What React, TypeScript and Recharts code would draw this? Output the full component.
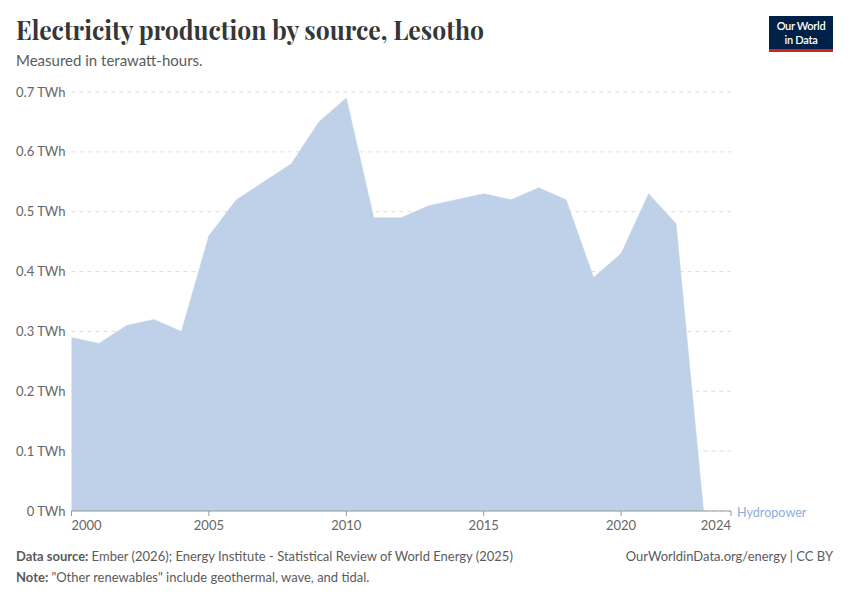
import React from "react";
import { AreaChart, Area, XAxis, YAxis, CartesianGrid } from "recharts";

const years = [2000, 2001, 2002, 2003, 2004, 2005, 2006, 2007, 2008, 2009, 2010, 2011, 2012, 2013, 2014, 2015, 2016, 2017, 2018, 2019, 2020, 2021, 2022, 2023];
const hydropower = [0.29, 0.28, 0.31, 0.32, 0.30, 0.46, 0.52, 0.55, 0.58, 0.65, 0.69, 0.49, 0.49, 0.51, 0.52, 0.53, 0.52, 0.54, 0.52, 0.39, 0.43, 0.53, 0.48, 0];
const xTicks = [2000, 2005, 2010, 2015, 2020, 2024];
const yTicks = [0, 0.1, 0.2, 0.3, 0.4, 0.5, 0.6, 0.7];

const data = years.map((y, i) => ({ year: y, hydro: hydropower[i] }));

const FONT = "Lato, 'Noto Sans', sans-serif";

const XTick = (props: any) => {
  const { x, payload, index } = props;
  const anchor = index === 0 ? "start" : index === xTicks.length - 1 ? "end" : "middle";
  return (
    <text x={x} y={530} textAnchor={anchor} fontFamily={FONT} fontSize={13} fill="#666">
      {payload.value}
    </text>
  );
};

export default function App() {
  return (
    <div style={{ position: "absolute", left: 0, top: 0, width: 850, height: 600, background: "#fff", fontFamily: FONT }}>
      <AreaChart width={850} height={600} data={data} margin={{ top: 92, right: 119, bottom: 59, left: 0 }}>
        <CartesianGrid vertical={false} stroke="#ddd" strokeDasharray="4 4" />
        <YAxis
          type="number"
          domain={[0, 0.7]}
          ticks={yTicks}
          width={71.5}
          axisLine={false}
          tickLine={false}
          tickSize={0}
          tickMargin={6}
          tickFormatter={(v: number) => `${v} TWh`}
          tick={{ fontFamily: FONT, fontSize: 13, fill: "#666" }}
        />
        <XAxis
          dataKey="year"
          type="number"
          domain={[2000, 2024]}
          ticks={xTicks}
          height={30}
          stroke="#999"
          tickSize={5}
          tick={<XTick />}
          interval={0}
        />
        <Area
          type="linear"
          dataKey="hydro"
          fill="#bed1e8"
          fillOpacity={1}
          stroke="#bed1e8"
          strokeWidth={0.5}
          isAnimationActive={false}
        />
      </AreaChart>
      <svg width={850} height={600} style={{ position: "absolute", left: 0, top: 0, pointerEvents: "none" }}>
        <text x={16} y={40} fontFamily="'Playfair Display', 'Liberation Serif', 'DejaVu Serif', serif" fontWeight={700} fontSize={27} fill="#363636" textLength={468} lengthAdjust="spacingAndGlyphs">
          Electricity production by source, Lesotho
        </text>
        <text x={16} y={66} fontFamily={FONT} fontSize={15} fill="#5b5b5b">
          Measured in terawatt-hours.
        </text>
        <rect x={769} y={16} width={64} height={36} fill="#002147" />
        <rect x={769} y={49} width={64} height={3} fill="#ce261e" />
        <text x={801} y={30} textAnchor="middle" fontFamily={FONT} fontSize={11} fontWeight={600} fill="#fff" letterSpacing={-0.3}>
          Our World
        </text>
        <text x={801} y={43.5} textAnchor="middle" fontFamily={FONT} fontSize={11} fontWeight={600} fill="#fff" letterSpacing={-0.3}>
          in Data
        </text>
        <text x={737} y={517} fontFamily={FONT} fontSize={12.6} fill="#8cb0dc">
          Hydropower
        </text>
        <text x={16} y={561} fontFamily={FONT} fontSize={13} fill="#5b5b5b">
          <tspan fontWeight={700}>Data source: </tspan>
          <tspan>Ember (2026); Energy Institute - Statistical Review of World Energy (2025)</tspan>
        </text>
        <text x={833} y={561} textAnchor="end" fontFamily={FONT} fontSize={13} fill="#5b5b5b">
          OurWorldinData.org/energy | CC BY
        </text>
        <text x={16} y={582} fontFamily={FONT} fontSize={13} fill="#5b5b5b">
          <tspan fontWeight={700}>Note: </tspan>
          <tspan>"Other renewables" include geothermal, wave, and tidal.</tspan>
        </text>
      </svg>
    </div>
  );
}
